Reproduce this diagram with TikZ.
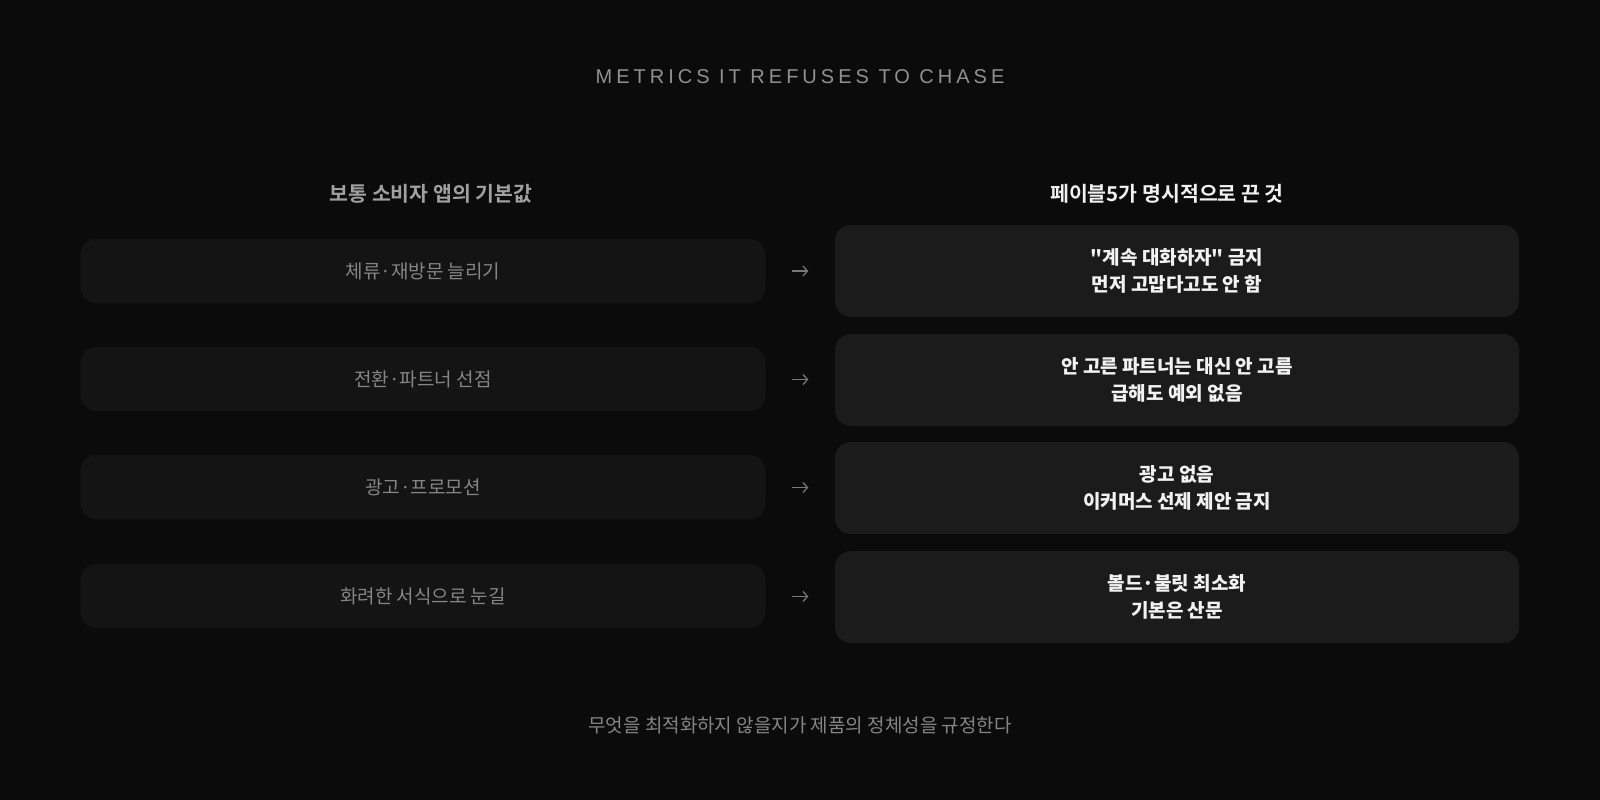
\documentclass[tikz,border=0pt]{standalone}
\usepackage{fontspec}
\setmainfont{Noto Sans}
\newfontfamily\kr{Noto Sans CJK KR}
\newfontfamily\krb{Noto Sans CJK KR}[BoldFont={* Bold}]
\newfontfamily\titlefont{Liberation Sans}[LetterSpace=20]
\usetikzlibrary{arrows.meta,calc}
\definecolor{bg}{HTML}{0B0B0B}
\definecolor{lbox}{HTML}{141414}
\definecolor{rbox}{HTML}{1B1B1B}
\definecolor{ltext}{HTML}{858585}
\definecolor{ttext}{HTML}{909090}
\definecolor{hgray}{HTML}{A0A0A0}
\definecolor{wtext}{HTML}{F2F2F2}
\definecolor{arr}{HTML}{7A7A7A}
\tikzset{
  leftbox/.style={fill=lbox,rounded corners=16pt,minimum width=685pt,minimum height=64pt,inner sep=0pt,text=ltext,font=\kr\fontsize{19}{24}\selectfont},
  rightbox/.style={fill=rbox,rounded corners=16pt,minimum width=684pt,minimum height=92pt,inner sep=0pt,text=wtext,align=center,font=\kr\fontsize{19}{27.5}\selectfont\bfseries},
  header/.style={font=\krb\fontsize{20.5}{24}\selectfont\bfseries},
  arrowline/.style={draw=arr,line width=1.2pt,-{Straight Barb[length=4.5pt,width=10pt,line width=1.2pt]}}
}
\begin{document}
\begin{tikzpicture}[x=1pt,y=-1pt]
\fill[bg] (0,0) rectangle (1600,800);
\useasboundingbox (0,0) rectangle (1600,800);
\node[text=ttext,font=\titlefont\fontsize{20}{24}\selectfont] (title) at (800,77) {METRICS IT REFUSES TO CHASE};
\node[text=hgray,header] (hl) at (431,194) {보통 소비자 앱의 기본값};
\node[text=wtext,header] (hr) at (1167,194) {페이블5가 명시적으로 끈 것};
\node[leftbox] (l1) at (423,271) {체류·재방문 늘리기};
\node[leftbox] (l2) at (423,379) {전환·파트너 선점};
\node[leftbox] (l3) at (423,487) {광고·프로모션};
\node[leftbox] (l4) at (423,596) {화려한 서식으로 눈길};
\node[rightbox] (r1) at (1177,271) {"계속 대화하자" 금지\\먼저 고맙다고도 안 함};
\node[rightbox] (r2) at (1177,380) {안 고른 파트너는 대신 안 고름\\급해도 예외 없음};
\node[rightbox] (r3) at (1177,488) {광고 없음\\이커머스 선제 제안 금지};
\node[rightbox] (r4) at (1177,597) {볼드·불릿 최소화\\기본은 산문};
\foreach \i in {1,2,3,4}{
  \coordinate (a\i) at ($(l\i.east)!0.5!(r\i.west)+(-8,0)$);
  \coordinate (b\i) at ($(l\i.east)!0.5!(r\i.west)+(8,0)$);
  \draw[arrowline] (a\i) -- (b\i);
}
\node[text=ltext,font=\kr\fontsize{19}{24}\selectfont] (foot) at (800,725) {무엇을 최적화하지 않을지가 제품의 정체성을 규정한다};
\end{tikzpicture}
\end{document}
